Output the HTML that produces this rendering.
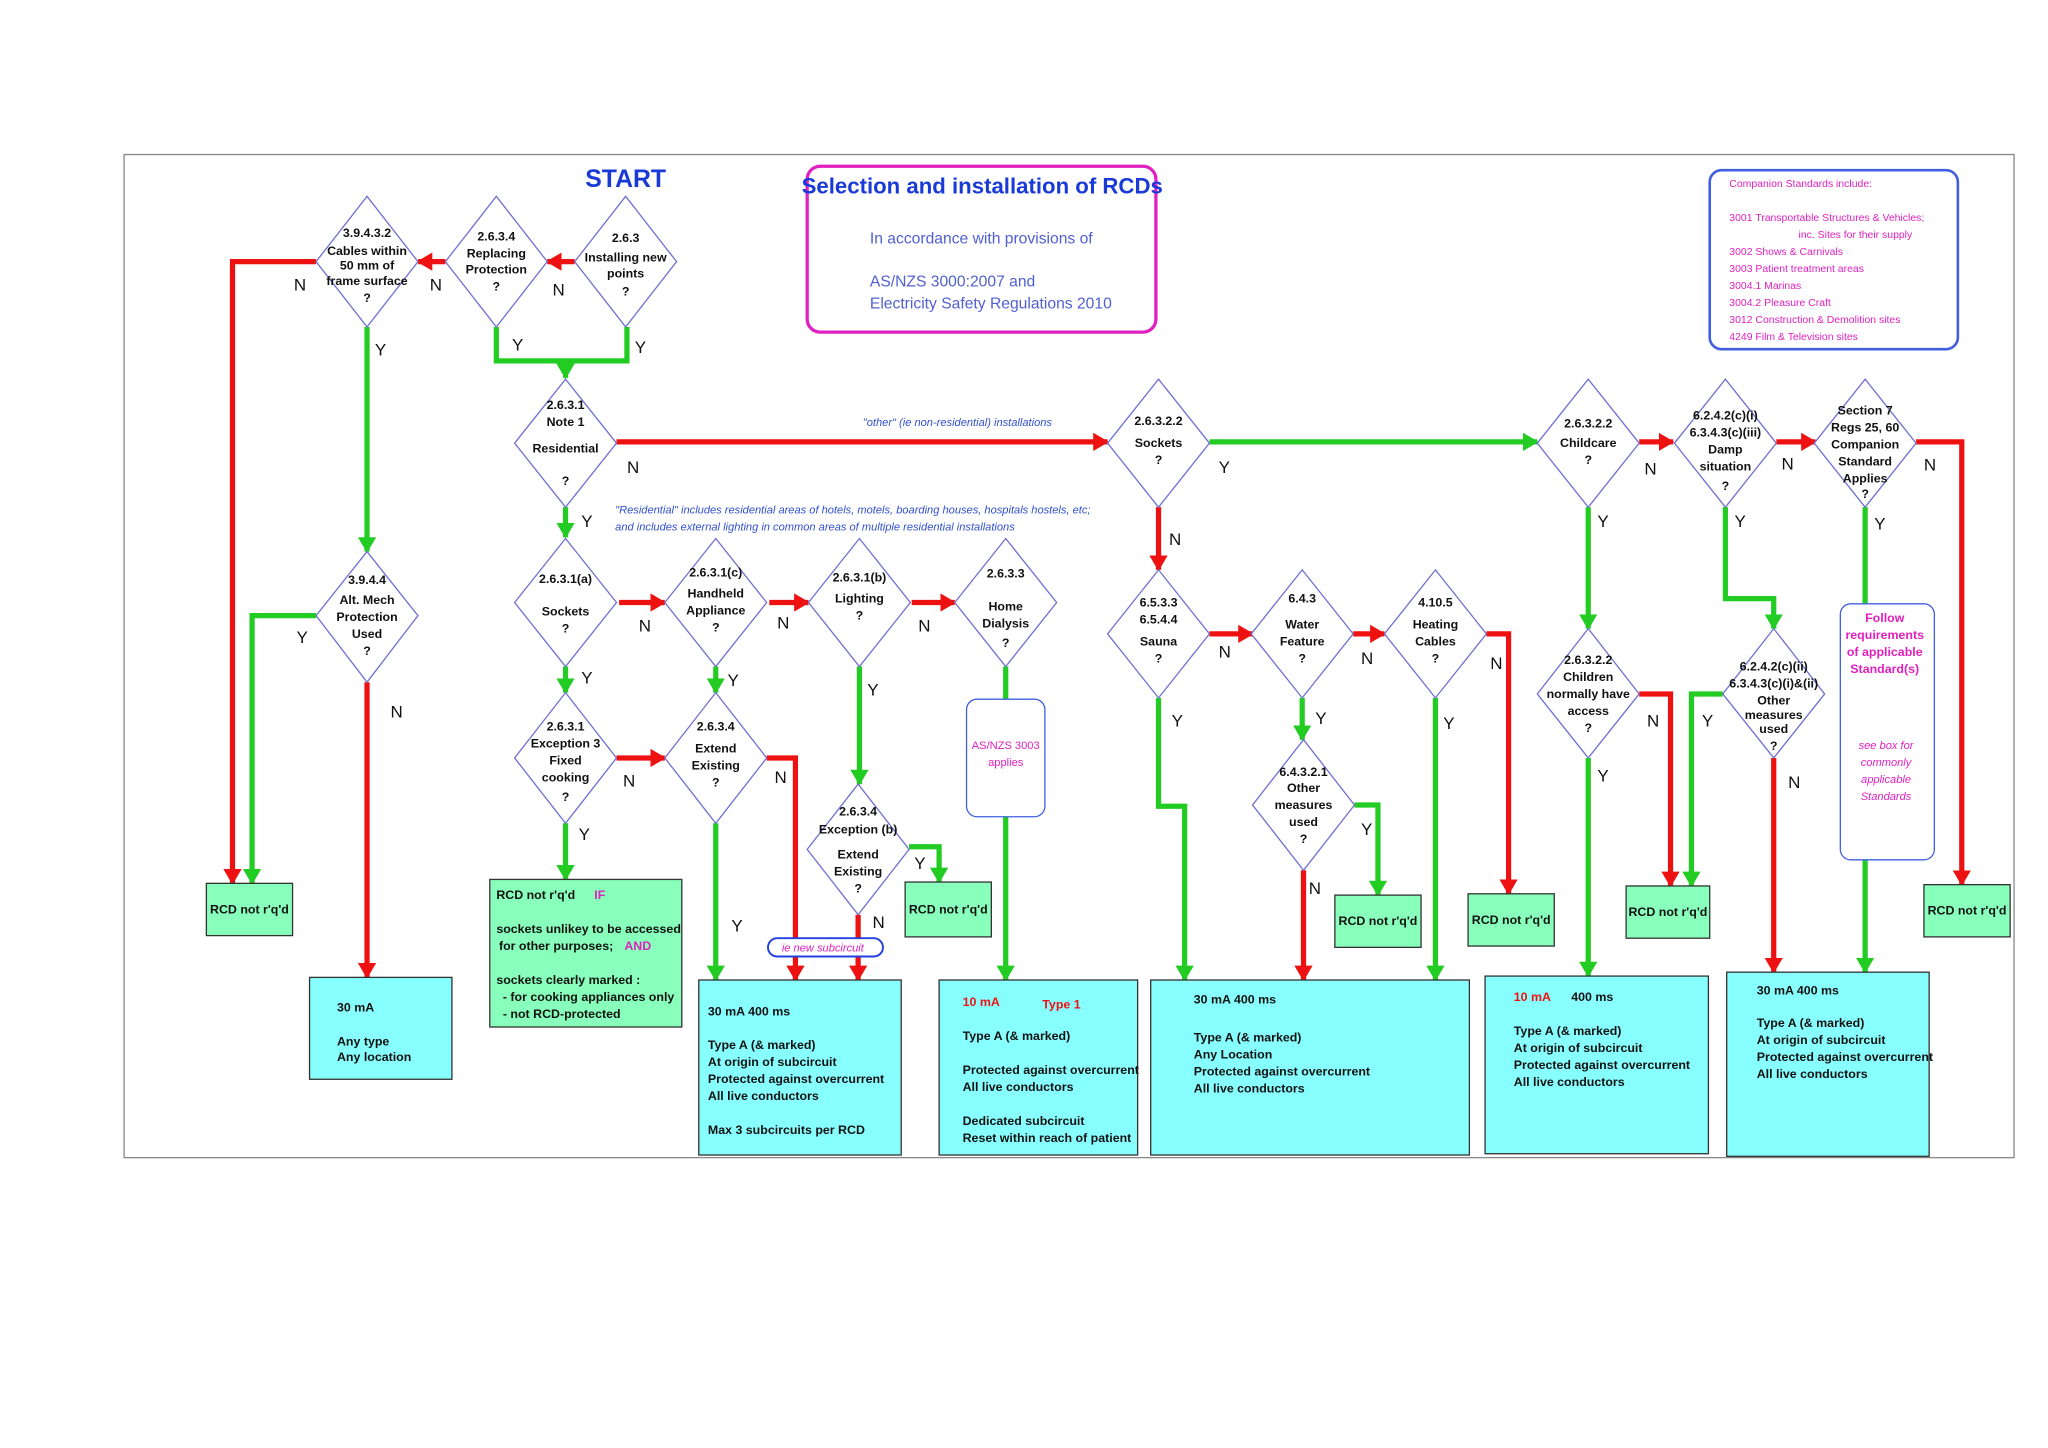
<!DOCTYPE html>
<html><head><meta charset="utf-8"><style>
html,body{margin:0;padding:0;background:#fff;}
svg{display:block;}
text{font-family:"Liberation Sans",Arial,sans-serif;}
.d{fill:#fff;stroke:#7070d0;stroke-width:1;}
.dt{font-size:9.5px;font-weight:bold;text-anchor:middle;fill:#111;}
.r{fill:none;stroke:#ee1111;stroke-width:4;}
.g{fill:none;stroke:#22cc22;stroke-width:4;}
.lb{font-size:13px;fill:#111;}
.bt{font-size:9.5px;font-weight:bold;fill:#111;}
.cy{fill:#88ffff;stroke:#333;stroke-width:1;}
.gr{fill:#88ffbb;stroke:#333;stroke-width:1;}
</style></head><body>
<svg width="2048" height="1448" viewBox="0 0 1568 1108" xmlns="http://www.w3.org/2000/svg">
<defs>
<marker id="ar" markerUnits="userSpaceOnUse" markerWidth="12" markerHeight="14" refX="11" refY="7" orient="auto"><path d="M0,0 L12,7 L0,14 z" fill="#ee1111"/></marker>
<marker id="ag" markerUnits="userSpaceOnUse" markerWidth="12" markerHeight="14" refX="11" refY="7" orient="auto"><path d="M0,0 L12,7 L0,14 z" fill="#22cc22"/></marker>
</defs>
<rect x="0" y="0" width="1568" height="1108" fill="#fff"/>
<rect x="95" y="118" width="1447" height="768" fill="#fff" stroke="#888" stroke-width="1"/>

<text x="479" y="143" font-size="19" font-weight="bold" fill="#1a3ad8" text-anchor="middle">START</text>

<!-- title box -->
<rect x="618" y="127" width="267" height="127" rx="10" fill="#fff" stroke="#e020c0" stroke-width="2.5"/>
<text x="752" y="148" font-size="17" font-weight="bold" fill="#1a3ad8" text-anchor="middle">Selection and installation of RCDs</text>
<text x="666" y="186" font-size="12" fill="#5060d0">In accordance with provisions of</text>
<text x="666" y="219" font-size="12" fill="#5060d0">AS/NZS 3000:2007      and</text>
<text x="666" y="236" font-size="12" fill="#5060d0">Electricity Safety Regulations 2010</text>

<!-- companion box -->
<rect x="1309" y="130" width="190" height="137" rx="9" fill="#fff" stroke="#4060e0" stroke-width="2"/>
<g font-size="8" fill="#e020c0">
<text x="1324" y="143">Companion Standards include:</text>
<text x="1324" y="169">3001    Transportable Structures &amp; Vehicles;</text>
<text x="1377" y="182">inc. Sites for their supply</text>
<text x="1324" y="195">3002    Shows &amp; Carnivals</text>
<text x="1324" y="208">3003    Patient treatment areas</text>
<text x="1324" y="221">3004.1  Marinas</text>
<text x="1324" y="234">3004.2  Pleasure Craft</text>
<text x="1324" y="247">3012    Construction &amp; Demolition sites</text>
<text x="1324" y="260">4249    Film &amp; Television sites</text>
</g>

<text x="733" y="326" font-size="8.5" font-style="italic" fill="#3050d0" text-anchor="middle">"other"  (ie non-residential) installations</text>
<text x="471" y="393" font-size="8.5" font-style="italic" fill="#3050d0">"Residential" includes residential areas of hotels, motels, boarding houses, hospitals hostels, etc;</text>
<text x="471" y="406" font-size="8.5" font-style="italic" fill="#3050d0">and includes external lighting in common areas of multiple residential installations</text>

<!-- connectors -->
<g>
<path class="r" d="M440,200 H419" marker-end="url(#ar)"/>
<path class="r" d="M341,200 H320" marker-end="url(#ar)"/>
<path class="r" d="M242,200 H178 V676" marker-end="url(#ar)"/>
<path class="g" d="M281,250 V422" marker-end="url(#ag)"/>
<path class="g" d="M380,250 V276 H480 V250"/>
<path class="g" d="M433,276 V289" marker-end="url(#ag)"/>
<path class="r" d="M472,338 H848" marker-end="url(#ar)"/>
<path class="g" d="M433,388 V411" marker-end="url(#ag)"/>
<path class="g" d="M242,471 H193 V676" marker-end="url(#ag)"/>
<path class="r" d="M281,522 V748" marker-end="url(#ar)"/>
<path class="r" d="M474,461 H509" marker-end="url(#ar)"/>
<path class="r" d="M589,461 H619" marker-end="url(#ar)"/>
<path class="r" d="M698,461 H731" marker-end="url(#ar)"/>
<path class="g" d="M433,510 V530" marker-end="url(#ag)"/>
<path class="g" d="M548,510 V530" marker-end="url(#ag)"/>
<path class="g" d="M658,510 V600" marker-end="url(#ag)"/>
<path class="g" d="M770,510 V535"/>
<path class="g" d="M770,625 V750" marker-end="url(#ag)"/>
<path class="r" d="M472,580 H509" marker-end="url(#ar)"/>
<path class="g" d="M433,630 V673" marker-end="url(#ag)"/>
<path class="g" d="M548,630 V750" marker-end="url(#ag)"/>
<path class="r" d="M587,580 H609 V750" marker-end="url(#ar)"/>
<path class="g" d="M696,648 H719 V675" marker-end="url(#ag)"/>
<path class="r" d="M657,700 V750" marker-end="url(#ar)"/>
<path class="g" d="M926,338 H1177" marker-end="url(#ag)"/>
<path class="r" d="M887,388 V436" marker-end="url(#ar)"/>
<path class="r" d="M926,485 H959" marker-end="url(#ar)"/>
<path class="r" d="M1036,485 H1060" marker-end="url(#ar)"/>
<path class="r" d="M1138,485 H1155 V684" marker-end="url(#ar)"/>
<path class="g" d="M887,534 V617 H907 V750" marker-end="url(#ag)"/>
<path class="g" d="M997,534 V566" marker-end="url(#ag)"/>
<path class="g" d="M1099,534 V750" marker-end="url(#ag)"/>
<path class="g" d="M1037,616 H1055 V685" marker-end="url(#ag)"/>
<path class="r" d="M998,666 V750" marker-end="url(#ar)"/>
<path class="r" d="M1255,338 H1281" marker-end="url(#ar)"/>
<path class="r" d="M1360,338 H1390" marker-end="url(#ar)"/>
<path class="r" d="M1467,338 H1502 V677" marker-end="url(#ar)"/>
<path class="g" d="M1216,388 V481" marker-end="url(#ag)"/>
<path class="g" d="M1321,388 V458 H1358 V481" marker-end="url(#ag)"/>
<path class="g" d="M1428,388 V462"/>
<path class="g" d="M1428,658 V744" marker-end="url(#ag)"/>
<path class="r" d="M1255,531 H1279 V678" marker-end="url(#ar)"/>
<path class="g" d="M1216,580 V747" marker-end="url(#ag)"/>
<path class="g" d="M1319,531 H1295 V678" marker-end="url(#ag)"/>
<path class="r" d="M1358,580 V744" marker-end="url(#ar)"/>
</g>

<!-- Y/N labels -->
<g class="lb">
<text x="423" y="226">N</text><text x="329" y="222">N</text><text x="225" y="222">N</text>
<text x="287" y="272">Y</text><text x="392" y="268">Y</text><text x="486" y="270">Y</text>
<text x="480" y="362">N</text><text x="445" y="403">Y</text>
<text x="227" y="492">Y</text><text x="299" y="549">N</text>
<text x="489" y="483">N</text><text x="595" y="481">N</text><text x="703" y="483">N</text>
<text x="445" y="523">Y</text><text x="557" y="525">Y</text><text x="664" y="532">Y</text>
<text x="477" y="602">N</text><text x="593" y="599">N</text><text x="443" y="643">Y</text>
<text x="560" y="713">Y</text><text x="700" y="665">Y</text><text x="668" y="710">N</text>
<text x="933" y="362">Y</text><text x="895" y="417">N</text>
<text x="933" y="503">N</text><text x="1042" y="508">N</text><text x="1141" y="512">N</text>
<text x="897" y="556">Y</text><text x="1007" y="554">Y</text><text x="1105" y="558">Y</text>
<text x="1042" y="639">Y</text><text x="1002" y="684">N</text>
<text x="1259" y="363">N</text><text x="1364" y="359">N</text><text x="1473" y="360">N</text>
<text x="1223" y="403">Y</text><text x="1328" y="403">Y</text><text x="1435" y="405">Y</text>
<text x="1261" y="556">N</text><text x="1223" y="598">Y</text><text x="1303" y="556">Y</text><text x="1369" y="603">N</text>
</g>

<!-- diamonds -->
<g>
<polygon class="d" points="479,150 518,200 479,250 440,200"/>
<text class="dt" x="479" y="185">2.6.3</text><text class="dt" x="479" y="200">Installing new</text><text class="dt" x="479" y="212">points</text><text class="dt" x="479" y="226">?</text>
<polygon class="d" points="380,150 419,200 380,250 341,200"/>
<text class="dt" x="380" y="184">2.6.3.4</text><text class="dt" x="380" y="197">Replacing</text><text class="dt" x="380" y="209">Protection</text><text class="dt" x="380" y="222">?</text>
<polygon class="d" points="281,150 320,200 281,250 242,200"/>
<text class="dt" x="281" y="181">3.9.4.3.2</text><text class="dt" x="281" y="195">Cables within</text><text class="dt" x="281" y="206">50 mm of</text><text class="dt" x="281" y="218">frame surface</text><text class="dt" x="281" y="231">?</text>
<polygon class="d" points="433,290 472,339 433,388 394,339"/>
<text class="dt" x="433" y="313">2.6.3.1</text><text class="dt" x="433" y="326">Note 1</text><text class="dt" x="433" y="346">Residential</text><text class="dt" x="433" y="371">?</text>
<polygon class="d" points="281,422 320,471 281,522 242,471"/>
<text class="dt" x="281" y="447">3.9.4.4</text><text class="dt" x="281" y="462">Alt. Mech</text><text class="dt" x="281" y="475">Protection</text><text class="dt" x="281" y="488">Used</text><text class="dt" x="281" y="501">?</text>
<polygon class="d" points="433,412 472,461 433,510 394,461"/>
<text class="dt" x="433" y="446">2.6.3.1(a)</text><text class="dt" x="433" y="471">Sockets</text><text class="dt" x="433" y="484">?</text>
<polygon class="d" points="548,412 587,461 548,510 509,461"/>
<text class="dt" x="548" y="441">2.6.3.1(c)</text><text class="dt" x="548" y="457">Handheld</text><text class="dt" x="548" y="470">Appliance</text><text class="dt" x="548" y="483">?</text>
<polygon class="d" points="658,412 697,461 658,510 619,461"/>
<text class="dt" x="658" y="445">2.6.3.1(b)</text><text class="dt" x="658" y="461">Lighting</text><text class="dt" x="658" y="474">?</text>
<polygon class="d" points="770,412 809,461 770,510 731,461"/>
<text class="dt" x="770" y="442">2.6.3.3</text><text class="dt" x="770" y="467">Home</text><text class="dt" x="770" y="480">Dialysis</text><text class="dt" x="770" y="495">?</text>
<polygon class="d" points="433,530 472,580 433,630 394,580"/>
<text class="dt" x="433" y="559">2.6.3.1</text><text class="dt" x="433" y="572">Exception 3</text><text class="dt" x="433" y="585">Fixed</text><text class="dt" x="433" y="598">cooking</text><text class="dt" x="433" y="613">?</text>
<polygon class="d" points="548,530 587,580 548,630 509,580"/>
<text class="dt" x="548" y="559">2.6.3.4</text><text class="dt" x="548" y="576">Extend</text><text class="dt" x="548" y="589">Existing</text><text class="dt" x="548" y="602">?</text>
<polygon class="d" points="657,600 696,650 657,700 618,650"/>
<text class="dt" x="657" y="624">2.6.3.4</text><text class="dt" x="657" y="638">Exception (b)</text><text class="dt" x="657" y="657">Extend</text><text class="dt" x="657" y="670">Existing</text><text class="dt" x="657" y="683">?</text>
<polygon class="d" points="887,290 926,339 887,388 848,339"/>
<text class="dt" x="887" y="325">2.6.3.2.2</text><text class="dt" x="887" y="342">Sockets</text><text class="dt" x="887" y="355">?</text>
<polygon class="d" points="887,436 926,485 887,534 848,485"/>
<text class="dt" x="887" y="464">6.5.3.3</text><text class="dt" x="887" y="477">6.5.4.4</text><text class="dt" x="887" y="494">Sauna</text><text class="dt" x="887" y="507">?</text>
<polygon class="d" points="997,436 1036,485 997,534 958,485"/>
<text class="dt" x="997" y="461">6.4.3</text><text class="dt" x="997" y="481">Water</text><text class="dt" x="997" y="494">Feature</text><text class="dt" x="997" y="507">?</text>
<polygon class="d" points="1099,436 1138,485 1099,534 1060,485"/>
<text class="dt" x="1099" y="464">4.10.5</text><text class="dt" x="1099" y="481">Heating</text><text class="dt" x="1099" y="494">Cables</text><text class="dt" x="1099" y="507">?</text>
<polygon class="d" points="998,566 1037,616 998,666 959,616"/>
<text class="dt" x="998" y="594">6.4.3.2.1</text><text class="dt" x="998" y="606">Other</text><text class="dt" x="998" y="619">measures</text><text class="dt" x="998" y="632">used</text><text class="dt" x="998" y="645">?</text>
<polygon class="d" points="1216,290 1255,339 1216,388 1177,339"/>
<text class="dt" x="1216" y="327">2.6.3.2.2</text><text class="dt" x="1216" y="342">Childcare</text><text class="dt" x="1216" y="355">?</text>
<polygon class="d" points="1321,290 1360,339 1321,388 1282,339"/>
<text class="dt" x="1321" y="321">6.2.4.2(c)(i)</text><text class="dt" x="1321" y="334">6.3.4.3(c)(iii)</text><text class="dt" x="1321" y="347">Damp</text><text class="dt" x="1321" y="360">situation</text><text class="dt" x="1321" y="375">?</text>
<polygon class="d" points="1428,290 1467,339 1428,388 1389,339"/>
<text class="dt" x="1428" y="317">Section 7</text><text class="dt" x="1428" y="330">Regs 25, 60</text><text class="dt" x="1428" y="343">Companion</text><text class="dt" x="1428" y="356">Standard</text><text class="dt" x="1428" y="369">Applies</text><text class="dt" x="1428" y="381">?</text>
<polygon class="d" points="1216,481 1255,531 1216,580 1177,531"/>
<text class="dt" x="1216" y="508">2.6.3.2.2</text><text class="dt" x="1216" y="521">Children</text><text class="dt" x="1216" y="534">normally have</text><text class="dt" x="1216" y="547">access</text><text class="dt" x="1216" y="560">?</text>
<polygon class="d" points="1358,481 1397,531 1358,580 1319,531"/>
<text class="dt" x="1358" y="513">6.2.4.2(c)(ii)</text><text class="dt" x="1358" y="526">6.3.4.3(c)(i)&amp;(ii)</text><text class="dt" x="1358" y="539">Other</text><text class="dt" x="1358" y="550">measures</text><text class="dt" x="1358" y="561">used</text><text class="dt" x="1358" y="574">?</text>
</g>

<!-- RCD not required boxes -->
<g>
<rect class="gr" x="158" y="676" width="66" height="40"/><text class="bt" x="191" y="699" text-anchor="middle">RCD not r'q'd</text>
<rect class="gr" x="693" y="675" width="66" height="42"/><text class="bt" x="726" y="699" text-anchor="middle">RCD not r'q'd</text>
<rect class="gr" x="1022" y="685" width="66" height="40"/><text class="bt" x="1055" y="708" text-anchor="middle">RCD not r'q'd</text>
<rect class="gr" x="1124" y="684" width="66" height="40"/><text class="bt" x="1157" y="707" text-anchor="middle">RCD not r'q'd</text>
<rect class="gr" x="1245" y="678" width="64" height="40"/><text class="bt" x="1277" y="701" text-anchor="middle">RCD not r'q'd</text>
<rect class="gr" x="1473" y="677" width="66" height="40"/><text class="bt" x="1506" y="700" text-anchor="middle">RCD not r'q'd</text>
</g>

<!-- green big -->
<rect class="gr" x="375" y="673" width="147" height="113"/>
<g class="bt">
<text x="380" y="688">RCD not r'q'd</text><text x="455" y="688" fill="#e020c0">IF</text>
<text x="380" y="714">sockets unlikey to be accessed</text>
<text x="382" y="727">for other  purposes;</text><text x="478" y="727" fill="#e020c0">AND</text>
<text x="380" y="753">sockets clearly marked :</text>
<text x="385" y="766">-      for cooking appliances only</text>
<text x="385" y="779">-      not RCD-protected</text>
</g>

<!-- 30mA any type -->
<rect class="cy" x="237" y="748" width="109" height="78"/>
<g class="bt"><text x="258" y="774">30 mA</text><text x="258" y="800">Any type</text><text x="258" y="812">Any location</text></g>

<!-- dialysis box -->
<rect x="740" y="535" width="60" height="90" rx="8" fill="#fff" stroke="#4060e0" stroke-width="1"/>
<text x="770" y="573" font-size="8.5" fill="#e020c0" text-anchor="middle">AS/NZS 3003</text>
<text x="770" y="586" font-size="8.5" fill="#e020c0" text-anchor="middle">applies</text>

<!-- follow box -->
<rect x="1409" y="462" width="72" height="196" rx="8" fill="#fff" stroke="#4060e0" stroke-width="1"/>
<g font-size="9.5" font-weight="bold" fill="#e020c0" text-anchor="middle">
<text x="1443" y="476">Follow</text><text x="1443" y="489">requirements</text><text x="1443" y="502">of applicable</text><text x="1443" y="515">Standard(s)</text></g>
<g font-size="8.5" font-style="italic" fill="#e020c0" text-anchor="middle">
<text x="1444" y="573">see box for</text><text x="1444" y="586">commonly</text><text x="1444" y="599">applicable</text><text x="1444" y="612">Standards</text></g>

<!-- cyan boxes -->
<rect class="cy" x="535" y="750" width="155" height="134"/>
<g class="bt"><text x="542" y="777">30 mA      400 ms</text><text x="542" y="803">Type A    (&amp; marked)</text><text x="542" y="816">At origin of subcircuit</text><text x="542" y="829">Protected against overcurrent</text><text x="542" y="842">All live conductors</text><text x="542" y="868">Max 3 subcircuits per RCD</text></g>

<rect class="cy" x="719" y="750" width="152" height="134"/>
<g class="bt"><text x="737" y="770" fill="#ee1111">10 mA</text><text x="798" y="772" fill="#ee1111">Type 1</text><text x="737" y="796">Type A    (&amp; marked)</text><text x="737" y="822">Protected against overcurrent</text><text x="737" y="835">All live conductors</text><text x="737" y="861">Dedicated subcircuit</text><text x="737" y="874">Reset within reach of patient</text></g>

<rect class="cy" x="881" y="750" width="244" height="134"/>
<g class="bt"><text x="914" y="768">30 mA        400 ms</text><text x="914" y="797">Type A    (&amp; marked)</text><text x="914" y="810">Any Location</text><text x="914" y="823">Protected against overcurrent</text><text x="914" y="836">All live conductors</text></g>

<rect class="cy" x="1137" y="747" width="171" height="136"/>
<g class="bt"><text x="1159" y="766" fill="#ee1111">10 mA</text><text x="1203" y="766">400 ms</text><text x="1159" y="792">Type A    (&amp; marked)</text><text x="1159" y="805">At origin of subcircuit</text><text x="1159" y="818">Protected against overcurrent</text><text x="1159" y="831">All live conductors</text></g>

<rect class="cy" x="1322" y="744" width="155" height="141"/>
<g class="bt"><text x="1345" y="761">30 mA      400 ms</text><text x="1345" y="786">Type A    (&amp; marked)</text><text x="1345" y="799">At origin of subcircuit</text><text x="1345" y="812">Protected against overcurrent</text><text x="1345" y="825">All live conductors</text></g>

<!-- ie new subcircuit pill -->
<rect x="588" y="718" width="88" height="14" rx="7" fill="#fff" stroke="#2040e0" stroke-width="1.5"/>
<text x="630" y="728" font-size="8.5" font-style="italic" fill="#e020c0" text-anchor="middle">ie new subcircuit</text>
</svg>
</body></html>
